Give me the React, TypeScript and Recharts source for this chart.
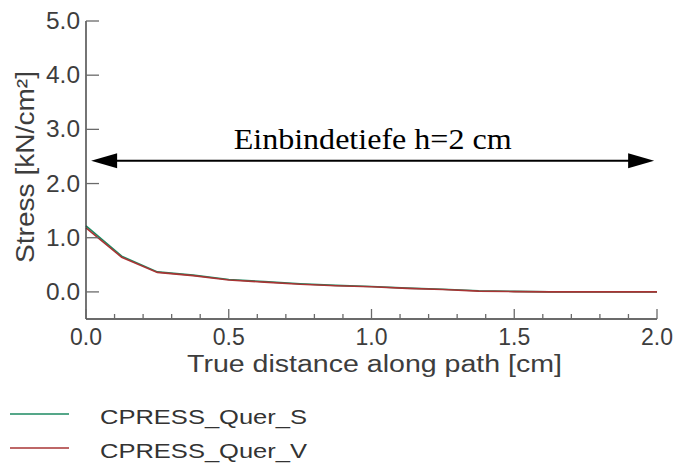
import { LineChart, Line, XAxis, YAxis, ReferenceLine, Legend } from 'recharts';

// distance along the path [cm]
const distance = [0, 0.125, 0.25, 0.375, 0.5, 0.625, 0.75, 0.875, 1.0, 1.125, 1.25, 1.375, 1.5, 1.625, 1.75, 1.875, 2.0];
// stress [kN/cm²]
const querS = [1.22, 0.66, 0.37, 0.31, 0.23, 0.19, 0.15, 0.12, 0.1, 0.07, 0.05, 0.02, 0.01, 0.0, 0.0, 0.0, 0.0];
const querV = [1.18, 0.64, 0.36, 0.3, 0.22, 0.18, 0.14, 0.115, 0.095, 0.065, 0.045, 0.015, 0.005, 0.0, 0.0, 0.0, 0.0];

const xTicks = [0, 0.1, 0.2, 0.3, 0.4, 0.5, 0.6, 0.7, 0.8, 0.9, 1.0, 1.1, 1.2, 1.3, 1.4, 1.5, 1.6, 1.7, 1.8, 1.9, 2.0];
const yTicks = [0, 1, 2, 3, 4, 5];
const seriesNames = ['CPRESS_Quer_S', 'CPRESS_Quer_V'];
const annotation = 'Einbindetiefe h=2 cm';
const annotationSpan = [0.018, 1.99];
const annotationLevel = 2.42;

const seriesColors = ['#1d8a62', '#a83434'];
const sans = '"Liberation Sans", Arial, Helvetica, sans-serif';
const axisColor = '#3a3a3a';
const tickColor = '#6a6a6a';
const labelColor = '#3d3d3d';

const data = distance.map((d, i) => ({ x: d, s: querS[i], v: querV[i] }));

const isMajor = (v: number) => Math.abs(v * 2 - Math.round(v * 2)) < 1e-6;

const BottomTick = (props: any) => {
  const { x, y, payload } = props;
  const major = isMajor(payload.value);
  return (
    <g>
      <line x1={x} y1={y} x2={x} y2={y - (major ? 10 : 5)} stroke={tickColor} strokeWidth={1.3} />
      {major && (
        <text x={x} y={y + 26} textAnchor="middle" fontFamily={sans} fontSize={23} fill={labelColor}>
          {payload.value.toFixed(1)}
        </text>
      )}
    </g>
  );
};

const TopTick = (props: any) => {
  const { x, y, payload } = props;
  const major = isMajor(payload.value);
  return <line x1={x} y1={y} x2={x} y2={y + (major ? 12 : 6)} stroke={tickColor} strokeWidth={1.3} />;
};

const LeftTick = (props: any) => {
  const { x, y, payload } = props;
  return (
    <g>
      <line x1={x} y1={y} x2={x + 13} y2={y} stroke={tickColor} strokeWidth={1.3} />
      <text x={x - 6} y={y + 8} textAnchor="end" fontFamily={sans} fontSize={23} textLength={34} lengthAdjust="spacingAndGlyphs" fill={labelColor}>
        {payload.value.toFixed(1)}
      </text>
    </g>
  );
};

const RightTick = (props: any) => {
  const { x, y } = props;
  return <line x1={x} y1={y} x2={x - 11} y2={y} stroke={tickColor} strokeWidth={1.3} />;
};

const ArrowShape = (props: any) => {
  const { x1, y1, x2 } = props;
  const y = y1;
  return (
    <g>
      <line x1={x1 + 20} y1={y} x2={x2 - 20} y2={y} stroke="#000" strokeWidth={2} />
      <polygon points={`${x1},${y} ${x1 + 26},${y - 7.5} ${x1 + 26},${y + 7.5}`} fill="#000" />
      <polygon points={`${x2},${y} ${x2 - 26},${y - 7.5} ${x2 - 26},${y + 7.5}`} fill="#000" />
      <text
        x={(x1 + x2) / 2}
        y={y - 12}
        textAnchor="middle"
        fontFamily='"Liberation Serif", "Times New Roman", serif'
        fontSize={30}
        textLength={278}
        lengthAdjust="spacingAndGlyphs"
        fill="#000"
      >
        {annotation}
      </text>
    </g>
  );
};

const XLabel = (props: any) => {
  const { viewBox } = props;
  return (
    <text
      x={viewBox.x + viewBox.width / 2 + 3}
      y={viewBox.y + 53}
      textAnchor="middle"
      fontFamily={sans}
      fontSize={23}
      textLength={375}
      lengthAdjust="spacingAndGlyphs"
      fill={labelColor}
    >
      True distance along path [cm]
    </text>
  );
};

const YLabel = (props: any) => {
  const { viewBox } = props;
  const cx = 34;
  const cy = viewBox.y + viewBox.height / 2 - 3;
  return (
    <text
      x={cx}
      y={cy}
      transform={`rotate(-90, ${cx}, ${cy})`}
      textAnchor="middle"
      fontFamily={sans}
      fontSize={26}
      textLength={192}
      lengthAdjust="spacingAndGlyphs"
      fill={labelColor}
    >
      Stress [kN/cm²]
    </text>
  );
};

const LegendContent = () => (
  <svg width={330} height={68}>
    {seriesNames.map((n, i) => (
      <g key={n}>
        <line x1={10} x2={69} y1={19 + 34 * i} y2={19 + 34 * i} stroke={seriesColors[i]} strokeWidth={1.5} />
        <text x={100} y={29 + 34 * i} fontFamily={sans} fontSize={21} textLength={207} lengthAdjust="spacingAndGlyphs" fill="#333">
          {n}
        </text>
      </g>
    ))}
  </svg>
);

export default function App() {
  return (
    <div style={{ position: 'absolute', left: 0, top: 0, background: '#fff' }}>
      <LineChart width={674} height={463} data={data} margin={{ top: 21, right: 17, bottom: 16, left: 26 }}>
        <XAxis
          dataKey="x"
          type="number"
          domain={[0, 2]}
          ticks={xTicks}
          interval={0}
          tickLine={false}
          tickSize={0}
          tickMargin={0}
          height={60}
          tick={<BottomTick />}
          axisLine={{ stroke: axisColor, strokeWidth: 1.4 }}
          label={{ content: <XLabel /> }}
        />
        <XAxis
          xAxisId="top"
          orientation="top"
          dataKey="x"
          type="number"
          domain={[0, 2]}
          ticks={xTicks}
          interval={0}
          tickLine={false}
          tickSize={0}
          tickMargin={0}
          height={0}
          tick={<TopTick />}
          axisLine={{ stroke: axisColor, strokeWidth: 1.4 }}
        />
        <YAxis
          type="number"
          domain={[-0.5, 5]}
          ticks={yTicks}
          interval={0}
          allowDataOverflow
          tickLine={false}
          tickSize={0}
          tickMargin={0}
          width={60}
          tick={<LeftTick />}
          axisLine={{ stroke: axisColor, strokeWidth: 1.4 }}
          label={{ content: <YLabel /> }}
        />
        <YAxis
          yAxisId="right"
          orientation="right"
          type="number"
          domain={[-0.5, 5]}
          ticks={yTicks}
          interval={0}
          allowDataOverflow
          tickLine={false}
          tickSize={0}
          tickMargin={0}
          width={0}
          tick={<RightTick />}
          axisLine={{ stroke: axisColor, strokeWidth: 1.4 }}
        />
        <ReferenceLine
          segment={[
            { x: annotationSpan[0], y: annotationLevel },
            { x: annotationSpan[1], y: annotationLevel },
          ]}
          shape={ArrowShape}
          ifOverflow="visible"
        />
        <Line dataKey="s" name={seriesNames[0]} stroke={seriesColors[0]} strokeWidth={1.6} dot={false} isAnimationActive={false} />
        <Line dataKey="v" name={seriesNames[1]} stroke={seriesColors[1]} strokeWidth={1.6} dot={false} isAnimationActive={false} />
        <Legend
          verticalAlign="bottom"
          content={<LegendContent />}
          wrapperStyle={{ top: 395, left: 0, bottom: 'auto', width: 330, height: 68 }}
        />
      </LineChart>
    </div>
  );
}
